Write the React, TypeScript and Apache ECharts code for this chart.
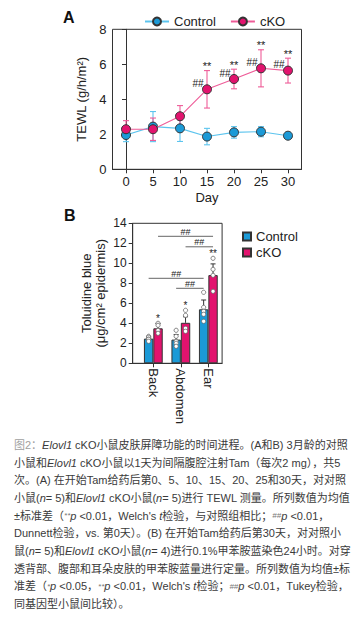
import React, { useEffect, useRef } from "react";
import * as echarts from "echarts";

// ---- Panel A: TEWL time course ----
const days = [0, 5, 10, 15, 20, 25, 30];
const controlMean = [1.96, 2.44, 2.34, 1.87, 2.11, 2.15, 1.92];
const controlSd = [0.38, 0.86, 0.75, 0.47, 0.33, 0.29, 0.05];
const ckoMean = [2.29, 2.29, 3.03, 4.57, 5.16, 5.77, 5.64];
const ckoSd = [0.49, 0.64, 0.61, 1.07, 0.56, 1.06, 0.71];
const welchMarksA = ["", "", "", "**", "**", "**", "**"];
const dunnettMarksA = ["", "", "", "##", "##", "##", "##"];
const yTicksA = [0, 2, 4, 6, 8];

// ---- Panel B: toluidine blue ----
const sites = ["Back", "Abdomen", "Ear"];
const tbControlMean = [2.47, 2.37, 5.4];
const tbControlSd = [0.16, 0.5, 0.93];
const tbCkoMean = [3.5, 4.05, 8.82];
const tbCkoSd = [0.47, 0.6, 1.12];
const tbControlDots = [
  [2.7, 2.6, 2.4, 2.4, 2.2],
  [3.3, 2.7, 2.2, 2.0, 1.7],
  [7.1, 5.6, 5.2, 4.9, 4.2],
];
const tbCkoDots = [
  [4.0, 3.8, 3.3, 3.0],
  [5.3, 4.8, 3.5, 3.2],
  [10.5, 9.4, 8.8, 7.2],
];
const welchMarksB = ["*", "*", "**"];
// Tukey brackets: from site, to site, height (y value), genotype (0 control, 1 cKO)
const bracketFrom = [1, 2, 1, 2];
const bracketTo = [3, 3, 3, 3];
const bracketLevel = [12.7, 11.65, 8.5, 7.5];
const bracketGroup = [1, 1, 0, 0];

const captionLines = [
  "{g|图2：}{i|Elovl1} cKO小鼠皮肤屏障功能的时间进程。(A和B) 3月龄的对照",
  "小鼠和{i|Elovl1} cKO小鼠以1天为间隔腹腔注射Tam（每次2 mg），共5",
  "次。(A) 在开始Tam给药后第0、5、10、15、20、25和30天，对对照",
  "小鼠({i|n}= 5)和{i|Elovl1} cKO小鼠({i|n}= 5)进行 TEWL 测量。所列数值为均值",
  "±标准差（{s|**}{i|p} <0.01，Welch's {i|t}检验，与对照组相比；{s|##}{i|p} <0.01，",
  "Dunnett检验，vs. 第0天）。(B) 在开始Tam给药后第30天，对对照小",
  "鼠({i|n}= 5)和{i|Elovl1} cKO小鼠({i|n}= 4)进行0.1%甲苯胺蓝染色24小时。对穿",
  "透背部、腹部和耳朵皮肤的甲苯胺蓝量进行定量。所列数值为均值±标",
  "准差（{s|*}{i|p} <0.05，{s|**}{i|p} <0.01，Welch's {i|t}检验；{s|##}{i|p} <0.01，Tukey检验，",
  "同基因型小鼠间比较）。",
];

const BLUE = "#1b9ad7";
const MAGENTA = "#e2136e";
const BLUE_LINE = "#5cc4ee";
const PINK_LINE = "#ee5c98";
const DARK = "#333";
const FONT = '"Liberation Sans", Arial, sans-serif';
const CAP_FONT = '"Liberation Sans", "Noto Sans CJK SC", sans-serif';

const errBarA = (color: string) => (params: any, api: any) => {
  const x = api.value(0);
  const m = api.value(1);
  const s = api.value(2);
  const top = api.coord([x, m + s]);
  const bot = api.coord([x, m - s]);
  const cw = 3;
  const st = { stroke: color, lineWidth: 1.1 };
  return {
    type: "group",
    children: [
      { type: "line", shape: { x1: top[0], y1: top[1], x2: bot[0], y2: bot[1] }, style: st },
      { type: "line", shape: { x1: top[0] - cw, y1: top[1], x2: top[0] + cw, y2: top[1] }, style: st },
      { type: "line", shape: { x1: bot[0] - cw, y1: bot[1], x2: bot[0] + cw, y2: bot[1] }, style: st },
    ],
  };
};

const HALF_BAR = 4.7;

const errBarB = (params: any, api: any) => {
  const x = api.value(0);
  const m = api.value(1);
  const s = api.value(2);
  const g = api.value(3);
  const off = g === 0 ? -HALF_BAR : HALF_BAR;
  const p0 = api.coord([x, m]);
  const p1 = api.coord([x, m + s]);
  const st = { stroke: DARK, lineWidth: 1 };
  return {
    type: "group",
    children: [
      { type: "line", shape: { x1: p0[0] + off, y1: p0[1], x2: p1[0] + off, y2: p1[1] }, style: st },
      { type: "line", shape: { x1: p1[0] + off - 2.5, y1: p1[1], x2: p1[0] + off + 2.5, y2: p1[1] }, style: st },
    ],
  };
};

const dotsB = (params: any, api: any) => {
  const x = api.value(0);
  const v = api.value(1);
  const g = api.value(2);
  const off = g === 0 ? -HALF_BAR : HALF_BAR;
  const p = api.coord([x, v]);
  return {
    type: "circle",
    shape: { cx: p[0] + off, cy: p[1], r: 2.1 },
    style: { fill: "#fff", stroke: "#666", lineWidth: 0.8 },
  };
};

function buildOption() {
  const errDataCtrl = days.map((d, i) => [d, controlMean[i], controlSd[i]]);
  const errDataCko = days.map((d, i) => [d, ckoMean[i], ckoSd[i]]);
  const annotDataA = days.map((d, i) => [d, ckoMean[i], ckoSd[i], i]);

  const errDataB: number[][] = [];
  sites.forEach((_, i) => {
    errDataB.push([i + 1, tbControlMean[i], tbControlSd[i], 0]);
    errDataB.push([i + 1, tbCkoMean[i], tbCkoSd[i], 1]);
  });
  const dotData: number[][] = [];
  tbControlDots.forEach((arr, i) => arr.forEach((v) => dotData.push([i + 1, v, 0])));
  tbCkoDots.forEach((arr, i) => arr.forEach((v) => dotData.push([i + 1, v, 1])));
  const starData = sites.map((_, i) => [i + 1, Math.max(...tbCkoDots[i]), i]);
  const bracketData = bracketFrom.map((f, i) => [f, bracketTo[i], bracketLevel[i], bracketGroup[i]]);

  return {
    animation: false,
    backgroundColor: "#fff",
    textStyle: { fontFamily: FONT },
    grid: [
      {
        left: 112.5, top: 29.3, width: 189, height: 140,
        show: true, borderColor: DARK, borderWidth: 1, backgroundColor: "transparent",
        outerBoundsMode: "none",
      },
      {
        left: 132.7, top: 223.3, width: 89.4, height: 140,
        show: true, borderColor: DARK, borderWidth: 1, backgroundColor: "transparent",
        outerBoundsMode: "none",
      },
    ],
    legend: [
      {
        data: ["Control", "cKO"],
        left: 139,
        top: 10,
        itemWidth: 24,
        itemHeight: 10,
        itemGap: 14,
        textStyle: { fontSize: 13, color: "#222", fontFamily: FONT },
        selectedMode: false,
      },
      {
        data: [
          { name: "Control B", icon: "rect" },
          { name: "cKO B", icon: "rect" },
        ],
        formatter: (n: string) => n.replace(" B", ""),
        orient: "vertical",
        left: 237,
        top: 225,
        itemWidth: 8,
        itemHeight: 8,
        itemGap: 3,
        textStyle: { fontSize: 13, color: "#222", fontFamily: FONT },
        selectedMode: false,
      },
    ],
    xAxis: [
      {
        type: "value",
        gridIndex: 0,
        min: -2.5,
        max: 32.5,
        axisLine: { lineStyle: { color: DARK } },
        axisTick: { length: 4, lineStyle: { color: DARK }, customValues: days },
        axisLabel: { customValues: days, fontSize: 13, color: "#222", margin: 6 },
        splitLine: { show: false },
        name: "Day",
        nameLocation: "middle",
        nameGap: 22,
        nameTextStyle: { fontSize: 13, color: "#222" },
      },
      {
        type: "value",
        gridIndex: 1,
        min: 0.25,
        max: 3.5,
        axisLine: { lineStyle: { color: DARK } },
        axisTick: { length: 4, lineStyle: { color: DARK }, customValues: [1, 2, 3] },
        axisLabel: {
          customValues: [1, 2, 3],
          formatter: (v: number) => sites[Math.round(v) - 1] || "",
          rotate: -90,
          fontSize: 13,
          color: "#222",
          margin: 5,
        },
        splitLine: { show: false },
      },
    ],
    yAxis: [
      {
        type: "value",
        gridIndex: 0,
        min: 0,
        max: 8,
        interval: 2,
        axisLine: { show: true, lineStyle: { color: DARK } },
        axisTick: { show: true, length: 4, lineStyle: { color: DARK } },
        axisLabel: { fontSize: 13, color: "#222", margin: 6 },
        splitLine: { show: false },
        name: "TEWL (g/h/m²)",
        nameLocation: "middle",
        nameGap: 23,
        nameTextStyle: { fontSize: 13, color: "#222" },
      },
      {
        type: "value",
        gridIndex: 1,
        min: 0,
        max: 14,
        interval: 2,
        axisLine: { show: true, lineStyle: { color: DARK } },
        axisTick: { show: true, length: 4, lineStyle: { color: DARK } },
        axisLabel: { fontSize: 12, color: "#222", margin: 6 },
        splitLine: { show: false },
        name: "Toluidine blue\n(μg/cm² epidermis)",
        nameLocation: "middle",
        nameGap: 25,
        nameTextStyle: { fontSize: 13, color: "#222", lineHeight: 14 },
      },
    ],
    series: [
      // Panel A error bars
      {
        type: "custom", name: "errCtrl", xAxisIndex: 0, yAxisIndex: 0, z: 1,
        renderItem: errBarA(BLUE_LINE), data: errDataCtrl, encode: { x: 0, y: 1 },
      },
      {
        type: "custom", name: "errCko", xAxisIndex: 0, yAxisIndex: 0, z: 1,
        renderItem: errBarA(PINK_LINE), data: errDataCko, encode: { x: 0, y: 1 },
      },
      {
        type: "line", name: "Control", xAxisIndex: 0, yAxisIndex: 0, z: 3,
        data: days.map((d, i) => [d, controlMean[i]]),
        symbol: "circle", symbolSize: 9,
        itemStyle: { color: BLUE, borderColor: DARK, borderWidth: 1 },
        lineStyle: { color: BLUE_LINE, width: 1.1 },
      },
      {
        type: "line", name: "cKO", xAxisIndex: 0, yAxisIndex: 0, z: 4,
        data: days.map((d, i) => [d, ckoMean[i]]),
        symbol: "circle", symbolSize: 9,
        itemStyle: { color: MAGENTA, borderColor: DARK, borderWidth: 1 },
        lineStyle: { color: PINK_LINE, width: 1.1 },
      },
      {
        type: "custom", name: "annotA", xAxisIndex: 0, yAxisIndex: 0, z: 5,
        data: annotDataA, encode: { x: 0, y: 1 },
        renderItem: (params: any, api: any) => {
          const x = api.value(0);
          const m = api.value(1);
          const s = api.value(2);
          const i = api.value(3);
          const children: any[] = [];
          const top = api.coord([x, m + s]);
          const ctr = api.coord([x, m]);
          if (welchMarksA[i]) {
            children.push({
              type: "text", x: top[0], y: top[1] - 4.5,
              style: { text: welchMarksA[i], align: "center", verticalAlign: "middle", fontSize: 11, fontFamily: FONT, fill: "#222" },
            });
          }
          if (dunnettMarksA[i]) {
            children.push({
              type: "text", x: ctr[0] - 9, y: ctr[1] - 6,
              style: { text: dunnettMarksA[i], align: "center", verticalAlign: "middle", fontSize: 10, fontFamily: FONT, fill: "#222" },
            });
          }
          return { type: "group", children };
        },
      },
      // Panel B bars
      {
        type: "bar", name: "Control B", xAxisIndex: 1, yAxisIndex: 1,
        data: sites.map((_, i) => [i + 1, tbControlMean[i]]),
        barWidth: 9.4, barGap: "0%",
        itemStyle: { color: BLUE, borderColor: DARK, borderWidth: 1 },
      },
      {
        type: "bar", name: "cKO B", xAxisIndex: 1, yAxisIndex: 1,
        data: sites.map((_, i) => [i + 1, tbCkoMean[i]]),
        barWidth: 9.4, barGap: "0%",
        itemStyle: { color: MAGENTA, borderColor: DARK, borderWidth: 1 },
      },
      {
        type: "custom", name: "errB", xAxisIndex: 1, yAxisIndex: 1, z: 3,
        data: errDataB, renderItem: errBarB, encode: { x: 0, y: 1 },
      },
      {
        type: "custom", name: "dotsB", xAxisIndex: 1, yAxisIndex: 1, z: 4,
        data: dotData, renderItem: dotsB, encode: { x: 0, y: 1 },
      },
      {
        type: "custom", name: "starsB", xAxisIndex: 1, yAxisIndex: 1, z: 5,
        data: starData, encode: { x: 0, y: 1 },
        renderItem: (params: any, api: any) => {
          const p = api.coord([api.value(0), api.value(1)]);
          const i = api.value(2);
          return {
            type: "text", x: p[0] + HALF_BAR, y: p[1] - 4.5,
            style: { text: welchMarksB[i], align: "center", verticalAlign: "middle", fontSize: 10, fontFamily: FONT, fill: "#222" },
          };
        },
      },
      {
        type: "custom", name: "bracketsB", xAxisIndex: 1, yAxisIndex: 1, z: 5,
        data: bracketData, encode: { x: 0, y: 2 },
        renderItem: (params: any, api: any) => {
          const f = api.value(0);
          const t = api.value(1);
          const lv = api.value(2);
          const g = api.value(3);
          const off = g === 0 ? -HALF_BAR : HALF_BAR;
          const a = api.coord([f, lv]);
          const b = api.coord([t, lv]);
          return {
            type: "group",
            children: [
              {
                type: "line",
                shape: { x1: a[0] + off, y1: a[1], x2: b[0] + off, y2: b[1] },
                style: { stroke: "#666", lineWidth: 1 },
              },
              {
                type: "text", x: (a[0] + b[0]) / 2 + off, y: a[1] - 4.5,
                style: { text: "##", align: "center", verticalAlign: "middle", fontSize: 9, fontFamily: FONT, fill: "#222" },
              },
            ],
          };
        },
      },
    ],
    graphic: [
      {
        type: "text", left: 63, top: 9,
        style: { text: "A", fontSize: 16, fontWeight: "bold", fontFamily: FONT, fill: "#111" },
      },
      {
        type: "text", left: 64, top: 207,
        style: { text: "B", fontSize: 16, fontWeight: "bold", fontFamily: FONT, fill: "#111" },
      },
      {
        type: "text", left: 14, top: 436,
        style: {
          text: captionLines.join("\n"),
          fontSize: 11,
          lineHeight: 17.7,
          fontFamily: CAP_FONT,
          fill: "#3a3a3a",
          rich: {
            g: { fontSize: 11, lineHeight: 17.7, fontFamily: CAP_FONT, fill: "#a0a0a0" },
            i: { fontSize: 11, lineHeight: 17.7, fontFamily: CAP_FONT, fontStyle: "italic", fill: "#3a3a3a" },
            s: { fontSize: 8, lineHeight: 17.7, fontFamily: CAP_FONT, fontStyle: "italic", fill: "#777" },
          },
        },
      },
    ],
  };
}

export default function App() {
  const ref = useRef<HTMLDivElement>(null);
  useEffect(() => {
    if (!ref.current) return;
    const chart = echarts.init(ref.current, null, { renderer: "svg" });
    chart.setOption(buildOption() as any);
    return () => chart.dispose();
  }, []);
  return (
    <div
      ref={ref}
      style={{ position: "absolute", left: 0, top: 0, width: 363, height: 618, background: "#fff" }}
    />
  );
}
